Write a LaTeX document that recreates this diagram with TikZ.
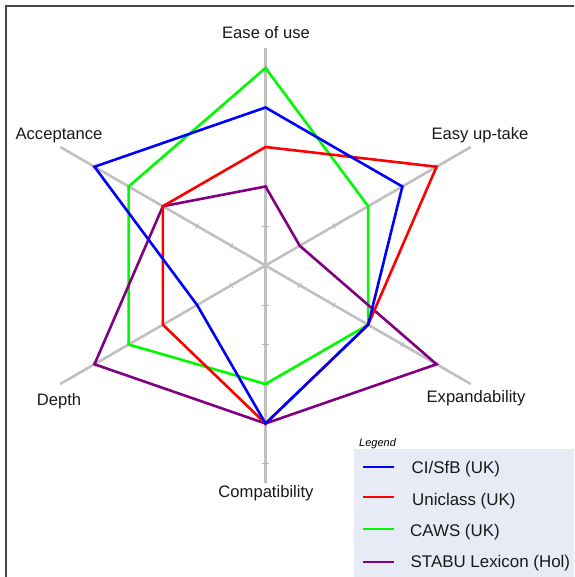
\documentclass[tikz,border=0pt]{standalone}
\usepackage{fontspec}
\setmainfont{Liberation Sans}
\definecolor{axisgray}{RGB}{192,192,192}
\definecolor{framegray}{RGB}{70,70,70}
\definecolor{cblue}{RGB}{0,0,255}
\definecolor{cred}{RGB}{255,0,0}
\definecolor{cgreen}{RGB}{0,250,0}
\definecolor{cpurple}{RGB}{128,0,128}
\definecolor{legfill}{RGB}{230,235,245}
\tikzset{
  axisline/.style={draw=axisgray, line width=2.6pt},
  tickmark/.style={draw=axisgray!92!black, line width=0.6pt},
  series/.style={line width=2.6pt, line join=miter},
  lab/.style={inner sep=0pt, anchor=base, font=\fontsize{16.6}{19}\selectfont, text=black!90},
  legtext/.style={inner sep=0pt, anchor=base west, font=\fontsize{16.9}{19}\selectfont, text=black!90},
  legline/.style={line width=1.4pt},
}
\begin{document}
\begin{tikzpicture}[x=1pt,y=1pt]
\useasboundingbox (0,0) rectangle (574,-577);
\draw[framegray, line width=1.1pt] (6,-577) -- (6,-6) -- (574,-6);
\begin{scope}[shift={(265.5,-265.5)}, x=39.5pt, y=39.5pt]
  \coordinate (O) at (0,0);
  \foreach \a/\l/\n in {90/5.5/ease, 30/6/uptake, -30/6/expand, -90/5.5/compat, 210/6/depth, 150/6/accept}{
    \coordinate (\n) at (\a:\l);
    \draw[axisline] (O) -- (\n);
    \foreach \k in {1,...,5}{
      \draw[tickmark, rotate=\a] (\k,-0.08) -- (\k,0.08);
    }
  }
  % CAWS
  \draw[series, cgreen] (90:5) -- (30:3) -- (-30:3) -- (-90:3) -- (210:4) -- (150:4) -- cycle;
  % STABU
  \draw[series, cpurple] (90:2) -- (30:1) -- (-30:5) -- (-90:4) -- (210:5) -- (150:3) -- cycle;
  % Uniclass
  \draw[series, cred] (90:3) -- (30:5) -- (-30:3) -- (-90:4) -- (210:3) -- (150:3) -- cycle;
  % CI/SfB
  \draw[series, cblue] (90:4) -- (30:4) -- (-30:3) -- (-90:4) -- (210:2) -- (150:5) -- cycle;
\end{scope}
% axis labels
\node[lab] (lease) at (266,-39) {Ease of use};
\node[lab] (luptake) at (480,-140) {Easy up-take};
\node[lab] (laccept) at (59,-140) {Acceptance};
\node[lab] (ldepth) at (59,-405) {Depth};
\node[lab] (lexpand) at (476,-402) {Expandability};
\node[lab] (lcompat) at (266,-497) {Compatibility};
% legend
\fill[legfill] (354,-449) rectangle (574,-577);
\node[inner sep=0pt, anchor=base west, font=\fontsize{11}{13}\selectfont\itshape] (legtitle) at (359,-446.5) {Legend};
\draw[legline, cblue] (363,-467) -- (394,-467);
\node[legtext] (l1) at (411.5,-473) {CI/SfB (UK)};
\draw[legline, cred] (363,-497) -- (394,-497);
\node[legtext] (l2) at (412,-505) {Uniclass (UK)};
\draw[legline, cgreen] (363,-529) -- (394,-529);
\node[legtext] (l3) at (410,-536.5) {CAWS (UK)};
\draw[legline, cpurple] (363,-562) -- (394,-562);
\node[legtext] (l4) at (410.5,-567.5) {STABU Lexicon (Hol)};
\end{tikzpicture}
\end{document}
